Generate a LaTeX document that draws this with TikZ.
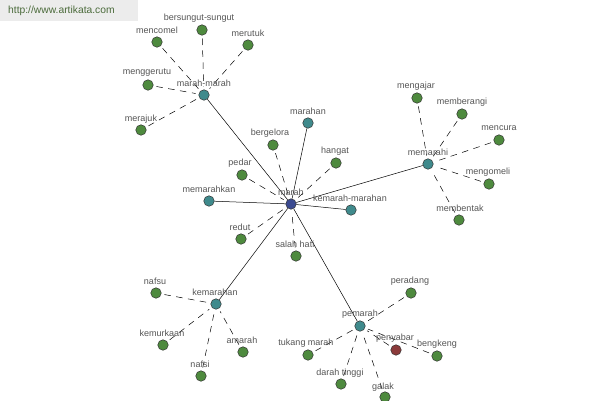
\documentclass[tikz,border=0pt]{standalone}
\usepackage{fontspec}
\setmainfont{Liberation Sans}
\begin{document}
\begin{tikzpicture}[x=1pt,y=-1pt,
  dot/.style={circle,draw=black!80,line width=0.5pt,minimum size=10.5pt,inner sep=0pt},
  leaf/.style={dot,fill=lgreen},
  hub/.style={dot,fill=lteal},
  core/.style={dot,fill=lnavy},
  anti/.style={dot,fill=lred},
  lbl/.style={text=lgray,font=\fontsize{9}{10}\selectfont,inner sep=0pt},
  solidedge/.style={draw=black,line width=0.5pt},
  dashedge/.style={draw=black,line width=0.5pt,dash pattern=on 6.5pt off 5.5pt,shorten <=3pt,shorten >=3pt}]
\definecolor{lgreen}{HTML}{4E8A3E}
\definecolor{lteal}{HTML}{3F8A8C}
\definecolor{lnavy}{HTML}{3B4A90}
\definecolor{lred}{HTML}{8B3A3A}
\definecolor{lgray}{HTML}{555555}
\definecolor{wmbg}{HTML}{ECECEC}
\definecolor{wmtext}{HTML}{4B6B3B}
\useasboundingbox (0,0) rectangle (600,400);
\fill[white] (0,0) rectangle (600,400);
% watermark
\node[fill=wmbg,minimum width=138pt,minimum height=21pt,anchor=north west,inner sep=0pt] (wm) at (0,0) {};
\node[text=wmtext,font=\fontsize{10.3}{12}\selectfont,anchor=west,inner sep=0pt] (wmt) at (8,11) {http://www.artikata.com};
% dots
\node[core] (marah) at (291,204) {};
\node[hub] (marahmarah) at (204,95) {};
\node[leaf] (mencomel) at (157,42) {};
\node[leaf] (bersungut) at (202,30) {};
\node[leaf] (merutuk) at (248,45) {};
\node[leaf] (menggerutu) at (148,85) {};
\node[leaf] (merajuk) at (141,130) {};
\node[leaf] (bergelora) at (273,145) {};
\node[hub] (marahan) at (308,123) {};
\node[leaf] (hangat) at (336,163) {};
\node[leaf] (pedar) at (242,175) {};
\node[hub] (memarahkan) at (209,201) {};
\node[hub] (kemarahmarahan) at (351,210) {};
\node[leaf] (redut) at (241,239) {};
\node[leaf] (salahhati) at (296,256) {};
\node[hub] (memarahi) at (428,164) {};
\node[leaf] (mengajar) at (417,98) {};
\node[leaf] (memberangi) at (462,114) {};
\node[leaf] (mencura) at (499,140) {};
\node[leaf] (mengomeli) at (489,184) {};
\node[leaf] (membentak) at (459,220) {};
\node[hub] (kemarahan) at (216,304) {};
\node[leaf] (nafsu) at (156,293) {};
\node[leaf] (kemurkaan) at (163,345) {};
\node[leaf] (amarah) at (243,352) {};
\node[leaf] (nafsi) at (201,376) {};
\node[hub] (pemarah) at (360,326) {};
\node[leaf] (peradang) at (411,293) {};
\node[leaf] (tukangmarah) at (308,355) {};
\node[anti] (penyabar) at (396,350) {};
\node[leaf] (bengkeng) at (437,356) {};
\node[leaf] (darahtinggi) at (341,384) {};
\node[leaf] (galak) at (385,397) {};
% edges
\foreach \t in {marahmarah,marahan,memarahi,kemarahmarahan,memarahkan,kemarahan,pemarah}
  \draw[solidedge] (marah) -- (\t);
\foreach \t in {bergelora,pedar,hangat,redut,salahhati}
  \draw[dashedge] (\t) -- (marah);
\foreach \t in {mencomel,bersungut,merutuk,menggerutu,merajuk}
  \draw[dashedge] (\t) -- (marahmarah);
\foreach \t in {mengajar,memberangi,mencura,mengomeli,membentak}
  \draw[dashedge] (\t) -- (memarahi);
\foreach \t in {nafsu,kemurkaan,amarah,nafsi}
  \draw[dashedge] (\t) -- (kemarahan);
\foreach \t in {peradang,tukangmarah,penyabar,bengkeng,darahtinggi,galak}
  \draw[dashedge] (\t) -- (pemarah);
% labels
\node[lbl] (lmarah) at (291,192) {marah};
\node[lbl] (lmarahmarah) at (204,83) {marah-marah};
\node[lbl] (lmencomel) at (157,30) {mencomel};
\node[lbl] (lbersungut) at (199,18) {bersungut-sungut};
\node[lbl] (lmerutuk) at (248,33) {merutuk};
\node[lbl] (lmenggerutu) at (147,73) {menggerutu};
\node[lbl] (lmerajuk) at (141,119) {merajuk};
\node[lbl] (lbergelora) at (270,133) {bergelora};
\node[lbl] (lmarahan) at (308,111) {marahan};
\node[lbl] (lhangat) at (335,151) {hangat};
\node[lbl] (lpedar) at (240,163) {pedar};
\node[lbl] (lmemarahkan) at (209,189) {memarahkan};
\node[lbl] (lkemarahmarahan) at (350,198) {kemarah-marahan};
\node[lbl] (lredut) at (240,227) {redut};
\node[lbl] (lsalahhati) at (295,244) {salah hati};
\node[lbl] (lmemarahi) at (428,152) {memarahi};
\node[lbl] (lmengajar) at (416,86) {mengajar};
\node[lbl] (lmemberangi) at (462,102) {memberangi};
\node[lbl] (lmencura) at (499,128) {mencura};
\node[lbl] (lmengomeli) at (488,172) {mengomeli};
\node[lbl] (lmembentak) at (460,208) {membentak};
\node[lbl] (lkemarahan) at (215,292) {kemarahan};
\node[lbl] (lnafsu) at (155,281) {nafsu};
\node[lbl] (lkemurkaan) at (162,333) {kemurkaan};
\node[lbl] (lamarah) at (242,340) {amarah};
\node[lbl] (lnafsi) at (200,364) {nafsi};
\node[lbl] (lpemarah) at (360,314) {pemarah};
\node[lbl] (lperadang) at (410,281) {peradang};
\node[lbl] (ltukangmarah) at (306,343) {tukang marah};
\node[lbl] (lpenyabar) at (395,338) {penyabar};
\node[lbl] (lbengkeng) at (437,344) {bengkeng};
\node[lbl] (ldarahtinggi) at (340,373) {darah tinggi};
\node[lbl] (lgalak) at (383,387) {galak};
\end{tikzpicture}
\end{document}
